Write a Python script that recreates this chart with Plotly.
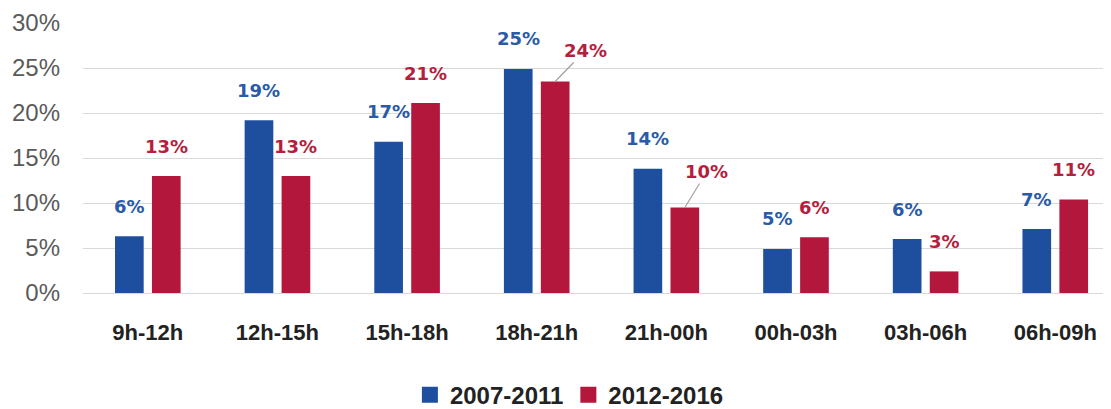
import plotly.graph_objects as go

categories = ["9h-12h", "12h-15h", "15h-18h", "18h-21h", "21h-00h", "00h-03h", "03h-06h", "06h-09h"]
series_names = ["2007-2011", "2012-2016"]
values_2007_2011 = [6.3, 19.2, 16.8, 24.9, 13.8, 4.9, 6.0, 7.1]
values_2012_2016 = [13.0, 13.0, 21.1, 23.5, 9.5, 6.2, 2.4, 10.4]
labels_2007_2011 = ["6%", "19%", "17%", "25%", "14%", "5%", "6%", "7%"]
labels_2012_2016 = ["13%", "13%", "21%", "24%", "10%", "6%", "3%", "11%"]
y_ticks = [0, 5, 10, 15, 20, 25, 30]
y_tick_labels = ["0%", "5%", "10%", "15%", "20%", "25%", "30%"]

BLUE = "#1E4F9E"
RED = "#B3173B"
BLUE_TXT = "#2A5BA6"
RED_TXT = "#B51E3D"

fig = go.Figure()
fig.add_trace(go.Bar(x=categories, y=values_2007_2011, name=series_names[0],
                     marker=dict(color=BLUE, line=dict(width=0)), showlegend=False))
fig.add_trace(go.Bar(x=categories, y=values_2012_2016, name=series_names[1],
                     marker=dict(color=RED, line=dict(width=0)), showlegend=False))
# legend entries
for nm, col in zip(series_names, [BLUE, RED]):
    fig.add_trace(go.Scatter(x=[None], y=[None], mode="markers", name=nm,
                             marker=dict(symbol="square", size=16, color=col)))

OFF = 18.5
# leader-line offsets (pixels) for specific labels: (series, index) -> (ax, ay)
leaders = {(1, 3): (30, -31), (1, 4): (22, -36)}
for s, (vals, labs, col, sh) in enumerate([(values_2007_2011, labels_2007_2011, BLUE_TXT, -OFF),
                                          (values_2012_2016, labels_2012_2016, RED_TXT, OFF)]):
    for i, (v, t) in enumerate(zip(vals, labs)):
        f = dict(family="DejaVu Sans", size=18, color=col, weight="bold")
        if (s, i) in leaders:
            ax, ay = leaders[(s, i)]
            fig.add_annotation(x=categories[i], y=v, xref="x", yref="y", xshift=sh,
                               text="<b>%s</b>" % t, font=f, showarrow=True,
                               arrowhead=0, arrowwidth=1.2, arrowcolor="#A0A0A0",
                               ax=ax, ay=ay, standoff=0)
        else:
            fig.add_annotation(x=categories[i], y=v, xref="x", yref="y", xshift=sh,
                               yshift=30, text="<b>%s</b>" % t, font=f,
                               showarrow=False, yanchor="middle")

# the page body adds an 8px offset, so the figure is 8px smaller than the window
fig.update_layout(
    width=1103, height=401,
    margin=dict(l=75, r=0, t=15, b=116, pad=0, autoexpand=False),
    paper_bgcolor="white", plot_bgcolor="white",
    barmode="group", bargap=0.43, bargroupgap=0.224,
    legend=dict(orientation="h", x=0.318, xanchor="left", y=-0.378, yanchor="middle",
                font=dict(family="Liberation Sans", size=24, color="#222222", weight="bold"),
                itemwidth=30, tracegroupgap=0, bgcolor="rgba(0,0,0,0)"),
    xaxis=dict(type="category", range=[-0.5, 7.43], showgrid=False, showline=False,
               zeroline=False, ticks="", ticklabelstandoff=24, automargin=False,
               tickfont=dict(family="Liberation Sans", size=22, color="#222222", weight="bold")),
    yaxis=dict(range=[0, 30], tickvals=y_ticks, ticktext=y_tick_labels,
               showgrid=True, gridcolor="#D9D9D9", gridwidth=1,
               zeroline=True, zerolinecolor="#D9D9D9", zerolinewidth=1,
               showline=False, ticks="", ticklabelstandoff=22, automargin=False,
               tickfont=dict(family="Liberation Sans", size=24, color="#5A5A5A")),
)

fig.write_html("out.html")
